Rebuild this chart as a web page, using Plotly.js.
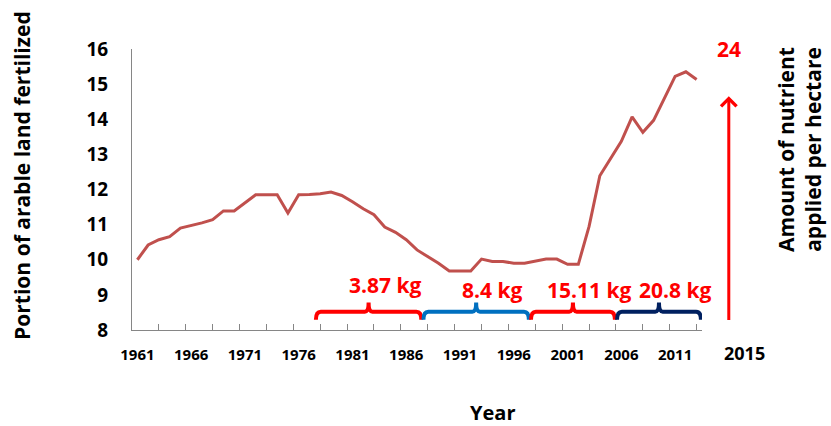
<!DOCTYPE html>
<html>
<head>
<meta charset="utf-8">
<script src="https://cdn.plot.ly/plotly-3.0.1.min.js"></script>
<style>html,body{margin:0;padding:0;background:#fff;}#chart{width:831px;height:426px;}</style>
</head>
<body>
<div id="chart"></div>
<script>
// ---- data ----
var years = [1961,1962,1963,1964,1965,1966,1967,1968,1969,1970,
             1971,1972,1973,1974,1975,1976,1977,1978,1979,1980,
             1981,1982,1983,1984,1985,1986,1987,1988,1989,1990,
             1991,1992,1993,1994,1995,1996,1997,1998,1999,2000,
             2001,2002,2003,2004,2005,2006,2007,2008,2009,2010,
             2011,2012,2013];
var portion = [10.00,10.42,10.57,10.66,10.90,10.97,11.05,11.14,11.39,11.39,
               11.61,11.85,11.85,11.85,11.33,11.85,11.86,11.88,11.93,11.83,
               11.65,11.45,11.28,10.93,10.78,10.57,10.28,10.10,9.90,9.68,
               9.68,9.68,10.02,9.95,9.95,9.90,9.90,9.96,10.02,10.02,
               9.87,9.87,10.95,12.39,12.90,13.37,14.07,13.63,13.97,14.62,
               15.22,15.35,15.13];
var tickYears = [1961,1966,1971,1976,1981,1986,1991,1996,2001,2006,2011];
var tickLabels = ['1961','1966','1971','1976','1981','1986','1991','1996','2001','2006','2011'];
var periodStart = [1978,1988,1998,2006];
var periodEnd = [1987,1997,2005,2013];
var periodLabels = ['3.87 kg','8.4 kg','15.11 kg','20.8 kg'];
var targetYearLabel = '2015';
var targetValueLabel = '24';

// ---- styles ----
var FONT = 'Open Sans, Liberation Sans, sans-serif';
var braceColors = ['#FF0000','#0070C0','#FF0000','#002060'];
var labelShift = [[0,5],[0,0],[0,0],[0,0]];

var shapes = [];
var annotations = [];
for (var i = 0; i < periodStart.length; i++) {
  var x0 = periodStart[i] - 0.4, x1 = periodEnd[i] + 0.4, xm = (x0 + x1) / 2;
  var yb = 8.29, yt = 8.52, ytip = 8.78, c = 0.45, c2 = 0.35;
  var p = 'M' + x0 + ',' + yb +
          ' Q' + x0 + ',' + yt + ' ' + (x0 + c) + ',' + yt +
          ' L' + (xm - c2) + ',' + yt +
          ' Q' + xm + ',' + yt + ' ' + xm + ',' + ytip +
          ' Q' + xm + ',' + yt + ' ' + (xm + c2) + ',' + yt +
          ' L' + (x1 - c) + ',' + yt +
          ' Q' + x1 + ',' + yt + ' ' + x1 + ',' + yb;
  shapes.push({type:'path', xref:'x', yref:'y', path:p,
               line:{color:braceColors[i], width:4}});
  annotations.push({xref:'x', yref:'y', x: xm + 1.5, y: 9.14,
    xshift: labelShift[i][0], yshift: labelShift[i][1],
    text: periodLabels[i], showarrow:false, xanchor:'center', yanchor:'middle',
    font:{family:FONT, size:21, weight:'bold', color:'#FF0000'}});
}

// arrow to the target
annotations.push({xref:'paper', yref:'paper', x:1.047, y:0.832,
  axref:'paper', ayref:'paper', ax:1.047, ay:0.03, text:'', showarrow:true,
  arrowhead:4, arrowsize:1, arrowwidth:3, arrowcolor:'#FF0000'});
annotations.push({xref:'paper', yref:'paper', x:1.047, y:1.0, text:targetValueLabel,
  showarrow:false, xanchor:'center', yanchor:'middle',
  font:{family:FONT, size:21, weight:'bold', color:'#FF0000'}});
annotations.push({xref:'paper', yref:'paper', x:1.074, y:-0.082, text:targetYearLabel,
  showarrow:false, xanchor:'center', yanchor:'middle',
  font:{family:FONT, size:18, weight:'bold', color:'#000'}});
// axis titles
annotations.push({xref:'paper', yref:'paper', x:-0.193, y:0.552,
  text:'Portion of arable land fertilized', textangle:-90, showarrow:false,
  xanchor:'center', yanchor:'middle',
  font:{family:FONT, size:21, weight:'bold', color:'#000'}});
annotations.push({xref:'paper', yref:'paper', x:1.17, y:0.644,
  text:'Amount of nutrient<br>applied per hectare', textangle:-90, showarrow:false,
  xanchor:'center', yanchor:'middle',
  font:{family:FONT, size:21, weight:'bold', color:'#000'}});
annotations.push({xref:'paper', yref:'paper', x:0.633, y:-0.294,
  text:'Year', showarrow:false, xanchor:'center', yanchor:'middle',
  font:{family:FONT, size:20, weight:'bold', color:'#000'}});

var traces = [
  {type:'scatter', mode:'lines', x:years, y:portion, xaxis:'x', yaxis:'y',
   line:{color:'#C0504D', width:3}, hoverinfo:'skip', showlegend:false},
  {type:'scatter', mode:'lines', x:[], y:[], xaxis:'x2', yaxis:'y',
   hoverinfo:'skip', showlegend:false}
];

var layout = {
  width:831, height:426,
  margin:{l:132, r:129, t:49, b:96, pad:0},
  paper_bgcolor:'#fff', plot_bgcolor:'#fff',
  showlegend:false,
  xaxis:{range:[1960.5,2013.5], tickmode:'array', tickvals:tickYears, ticktext:tickLabels,
    ticks:'outside', ticklen:11, tickcolor:'rgba(0,0,0,0)',
    showline:true, linecolor:'#868686', linewidth:1, showgrid:false, zeroline:false,
    tickfont:{family:FONT, size:15, weight:'bold', color:'#000'}, fixedrange:true},
  xaxis2:{range:[1960.5,2013.5], overlaying:'x', anchor:'y', side:'bottom',
    tickmode:'linear', tick0:1960.5, dtick:2.5, ticks:'inside', ticklen:6,
    tickcolor:'#868686', tickwidth:1, showticklabels:false, showline:false,
    showgrid:false, zeroline:false, fixedrange:true},
  yaxis:{range:[8,16], tickmode:'linear', tick0:8, dtick:1,
    ticks:'outside', ticklen:19, tickcolor:'rgba(0,0,0,0)',
    showline:true, linecolor:'#868686', linewidth:1, showgrid:false, zeroline:false,
    tickfont:{family:FONT, size:19, weight:'bold', color:'#000'}, fixedrange:true},
  shapes:shapes,
  annotations:annotations
};

Plotly.newPlot('chart', traces, layout, {displayModeBar:false, staticPlot:true});
</script>
</body>
</html>
